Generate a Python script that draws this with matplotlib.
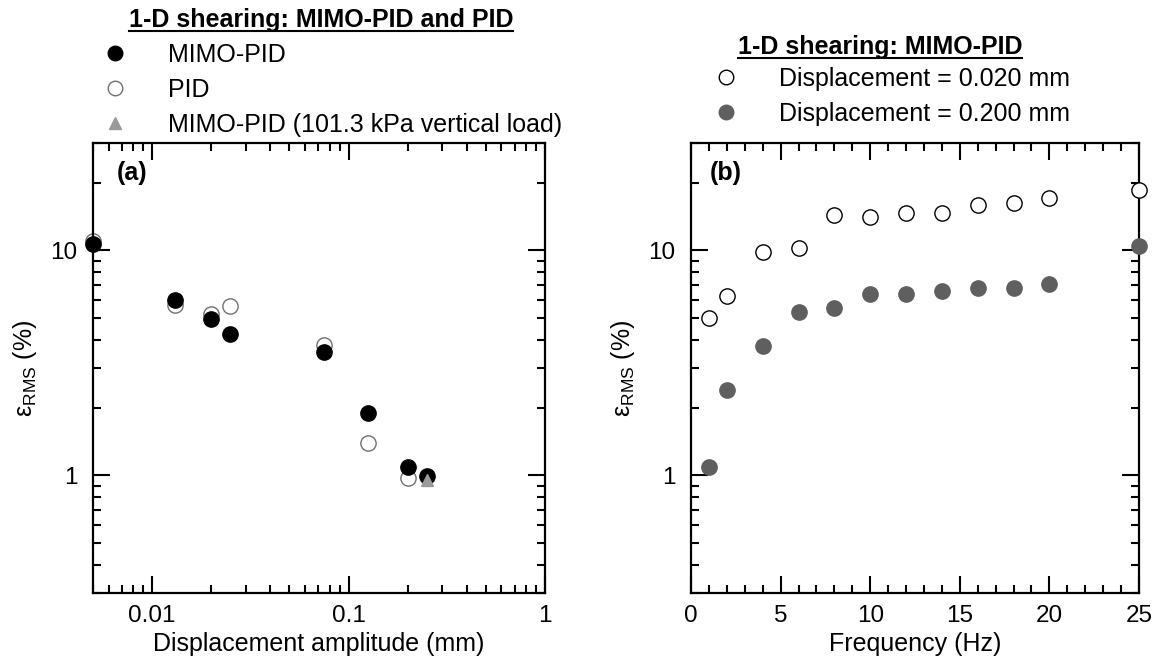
import matplotlib.pyplot as plt
from matplotlib.lines import Line2D
from matplotlib.ticker import LogLocator, MultipleLocator, FixedLocator, NullFormatter, FixedFormatter

plt.rcParams['font.family'] = ['Liberation Sans', 'DejaVu Sans']

# (a) error vs displacement amplitude
disp_mimo = [0.005, 0.013, 0.020, 0.025, 0.075, 0.125, 0.20, 0.25]
err_mimo = [10.7, 6.0, 4.95, 4.25, 3.55, 1.9, 1.09, 0.99]
disp_pid = [0.005, 0.013, 0.020, 0.025, 0.075, 0.125, 0.20]
err_pid = [11.0, 5.7, 5.2, 5.65, 3.8, 1.39, 0.97]
disp_load = [0.25]
err_load = [0.95]

# (b) error vs frequency
freq = [1, 2, 4, 6, 8, 10, 12, 14, 16, 18, 20, 25]
err_002 = [5.0, 6.3, 9.8, 10.2, 14.3, 14.1, 14.6, 14.6, 15.9, 16.2, 17.1, 18.5]
err_020 = [1.09, 2.4, 3.75, 5.33, 5.53, 6.42, 6.42, 6.57, 6.78, 6.8, 7.11, 10.5]

W, H = 1159, 665
FS = 18
fig = plt.figure(figsize=(W / 100, H / 100), dpi=100)
ax1 = fig.add_axes([93 / W, 72 / H, 452 / W, 450 / H])
ax2 = fig.add_axes([691 / W, 72 / H, 448 / W, 450 / H])

ms = 11
h_mimo, = ax1.plot(disp_mimo, err_mimo, 'o', ms=ms, mfc='black', mec='black', zorder=3, clip_on=False)
h_pid, = ax1.plot(disp_pid, err_pid, 'o', ms=ms, mfc='none', mec='#707070', mew=1.0, zorder=2, clip_on=False)
h_load, = ax1.plot(disp_load, err_load, '^', ms=9, mfc='#9a9a9a', mec='#9a9a9a', zorder=4, clip_on=False)

h_02, = ax2.plot(freq, err_002, 'o', ms=ms, mfc='white', mec='black', mew=1.0, zorder=3, clip_on=False)
h_20, = ax2.plot(freq, err_020, 'o', ms=ms, mfc='#5f5f5f', mec='#5f5f5f', zorder=3, clip_on=False)

ylab = 'ε$_{\\mathregular{RMS}}$ (%)'
for ax in (ax1, ax2):
    ax.set_yscale('log')
    ax.set_ylim(0.3, 30)
    ax.yaxis.set_major_locator(FixedLocator([1, 10]))
    ax.yaxis.set_major_formatter(FixedFormatter(['1', '10']))
    ax.yaxis.set_minor_locator(LogLocator(base=10, subs=range(2, 10)))
    ax.yaxis.set_minor_formatter(NullFormatter())
    ax.tick_params(which='both', direction='in', top=True, right=True, width=1.5, labelsize=17.5)
    ax.tick_params(axis='x', pad=9)
    ax.tick_params(axis='y', pad=11)
    ax.tick_params(which='major', length=12)
    ax.tick_params(which='minor', length=6)
    for s in ax.spines.values():
        s.set_linewidth(1.6)
    ax.set_ylabel(ylab, fontsize=FS, labelpad=8)

ax1.set_xscale('log')
ax1.set_xlim(0.005, 1)
ax1.xaxis.set_major_locator(FixedLocator([0.01, 0.1, 1]))
ax1.xaxis.set_major_formatter(FixedFormatter(['0.01', '0.1', '1']))
ax1.xaxis.set_minor_locator(LogLocator(base=10, subs=range(2, 10)))
ax1.xaxis.set_minor_formatter(NullFormatter())
ax1.set_xlabel('Displacement amplitude (mm)', fontsize=FS, labelpad=3)

ax2.set_xlim(0, 25)
ax2.xaxis.set_major_locator(MultipleLocator(5))
ax2.xaxis.set_minor_locator(MultipleLocator(1))
ax2.set_xlabel('Frequency (Hz)', fontsize=FS, labelpad=3)

ax1.text(0.052, 0.933, '(a)', transform=ax1.transAxes, fontsize=FS, fontweight='bold', va='center')
ax2.text(0.042, 0.933, '(b)', transform=ax2.transAxes, fontsize=FS, fontweight='bold', va='center')

# legends above each panel
leg_kw = dict(frameon=False, fontsize=FS, handlelength=1.0, handletextpad=1.62, markerscale=0.95,
              labelspacing=0.44, borderpad=0, borderaxespad=0, loc='upper left')
fig.legend([h_mimo, h_pid, h_load],
           ['MIMO-PID', 'PID', 'MIMO-PID (101.3 kPa vertical load)'],
           bbox_to_anchor=(102.5 / W, 1 - 43 / H), **leg_kw)
fig.legend([h_02, h_20],
           ['Displacement = 0.020 mm', 'Displacement = 0.200 mm'],
           bbox_to_anchor=(713.5 / W, 1 - 67 / H), **leg_kw)

titles = [fig.text(321 / W, 1 - 20 / H, '1-D shearing: MIMO-PID and PID', fontsize=FS,
                   fontweight='bold', ha='center', va='center'),
          fig.text(880 / W, 1 - 47 / H, '1-D shearing: MIMO-PID', fontsize=FS,
                   fontweight='bold', ha='center', va='center')]

# underline the titles
fig.canvas.draw()
inv = fig.transFigure.inverted()
for t in titles:
    bb = t.get_window_extent()
    (x0, y0), (x1, _) = inv.transform([[bb.x0, bb.y0], [bb.x1, bb.y1]])
    fig.add_artist(Line2D([x0, x1], [y0 + 0.002, y0 + 0.002], color='black', lw=1.5,
                          transform=fig.transFigure))

fig.savefig('out.png', dpi=100)
